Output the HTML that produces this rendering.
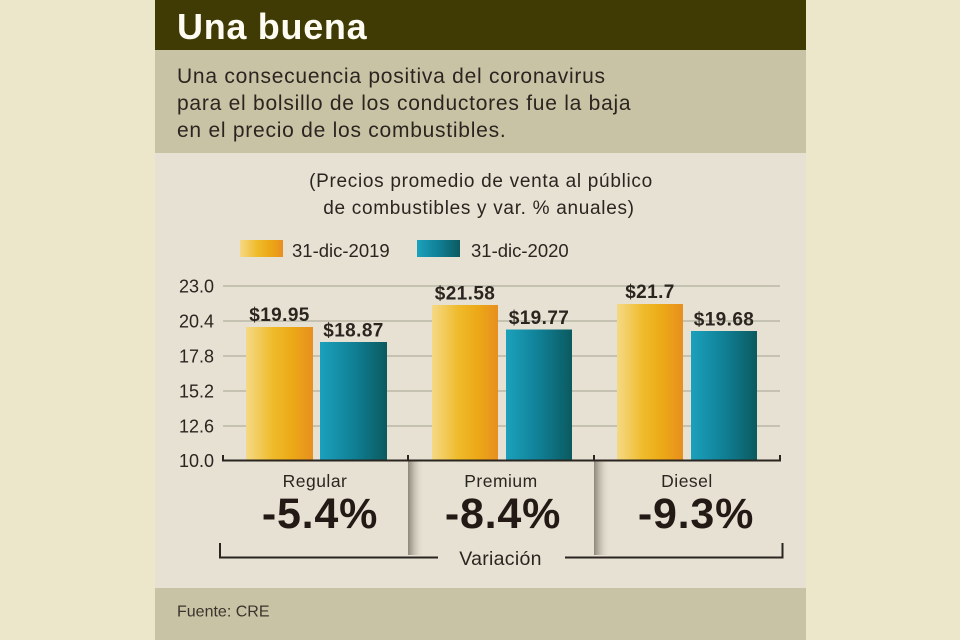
<!DOCTYPE html>
<html>
<head>
<meta charset="utf-8">
<style>
html,body{margin:0;padding:0;background:#ece7ca;}
svg{display:block;}
text{font-family:"Liberation Sans",sans-serif;}
</style>
</head>
<body>
<svg width="960" height="640" viewBox="0 0 960 640" xmlns="http://www.w3.org/2000/svg">
<defs>
<linearGradient id="gO" x1="0" y1="0" x2="1" y2="0">
<stop offset="0" stop-color="#f5d985"/>
<stop offset="0.4" stop-color="#efbb2b"/>
<stop offset="0.7" stop-color="#eca816"/>
<stop offset="1" stop-color="#e78f1f"/>
</linearGradient>
<linearGradient id="gT" x1="0" y1="0" x2="1" y2="0">
<stop offset="0" stop-color="#1ba1bc"/>
<stop offset="0.5" stop-color="#108096"/>
<stop offset="1" stop-color="#0b5a5f"/>
</linearGradient>
<linearGradient id="gS" x1="0" y1="0" x2="1" y2="0">
<stop offset="0" stop-color="#6e685c" stop-opacity="0.75"/>
<stop offset="0.3" stop-color="#8a8476" stop-opacity="0.5"/>
<stop offset="1" stop-color="#e6e1d3" stop-opacity="0"/>
</linearGradient>
</defs>

<!-- outer background -->
<rect x="0" y="0" width="960" height="640" fill="#ece7ca"/>
<!-- header -->
<rect x="155" y="0" width="651" height="50" fill="#403b05"/>
<!-- text box -->
<rect x="155" y="50" width="651" height="103" fill="#c9c3a6"/>
<!-- chart area -->
<rect x="155" y="153" width="651" height="435" fill="#e6e1d3"/>
<!-- footer -->
<rect x="155" y="588" width="651" height="52" fill="#c9c3a6"/>

<!-- title -->
<text x="177" y="39" font-size="36" font-weight="bold" fill="#fdfbf2" letter-spacing="0.7">Una buena</text>

<!-- intro text -->
<g font-size="21" fill="#2b2520" letter-spacing="0.75">
<text x="177" y="83">Una consecuencia positiva del coronavirus</text>
<text x="177" y="110">para el bolsillo de los conductores fue la baja</text>
<text x="177" y="137">en el precio de los combustibles.</text>
</g>

<!-- subtitle -->
<g font-size="19" fill="#2b2520" letter-spacing="0.7" text-anchor="middle">
<text x="481" y="187">(Precios promedio de venta al público</text>
<text x="479" y="214">de combustibles y var. % anuales)</text>
</g>

<!-- legend -->
<rect x="240" y="240" width="43" height="17" fill="url(#gO)"/>
<text x="292" y="257" font-size="18.5" fill="#2b2520">31-dic-2019</text>
<rect x="417" y="240" width="43" height="17" fill="url(#gT)"/>
<text x="471" y="257" font-size="18.5" fill="#2b2520">31-dic-2020</text>

<!-- gridlines -->
<g stroke="#bcb7a8" stroke-width="1.5">
<line x1="223" y1="286" x2="780" y2="286"/>
<line x1="223" y1="321" x2="780" y2="321"/>
<line x1="223" y1="356" x2="780" y2="356"/>
<line x1="223" y1="391" x2="780" y2="391"/>
<line x1="223" y1="426" x2="780" y2="426"/>
</g>

<!-- y labels -->
<g font-size="18" fill="#2b2520" text-anchor="end">
<text x="214" y="292.5">23.0</text>
<text x="214" y="327.5">20.4</text>
<text x="214" y="362.5">17.8</text>
<text x="214" y="397.5">15.2</text>
<text x="214" y="432.5">12.6</text>
<text x="214" y="467">10.0</text>
</g>

<!-- bars -->
<rect x="246" y="327" width="67" height="133" fill="url(#gO)"/>
<rect x="320" y="342" width="67" height="118" fill="url(#gT)"/>
<rect x="432" y="305" width="66" height="155" fill="url(#gO)"/>
<rect x="506" y="329.5" width="66" height="130.5" fill="url(#gT)"/>
<rect x="617" y="304" width="66" height="156" fill="url(#gO)"/>
<rect x="691" y="331" width="66" height="129" fill="url(#gT)"/>

<!-- bar labels -->
<g font-size="19" font-weight="bold" fill="#2b2520" text-anchor="middle" letter-spacing="0.4">
<text x="279.5" y="321">$19.95</text>
<text x="353.5" y="336.5">$18.87</text>
<text x="465" y="299.5">$21.58</text>
<text x="539" y="324">$19.77</text>
<text x="650" y="298">$21.7</text>
<text x="724" y="325.5">$19.68</text>
</g>

<!-- separators shading -->
<rect x="408" y="460" width="16" height="95" fill="url(#gS)"/>
<rect x="594" y="460" width="16" height="95" fill="url(#gS)"/>

<!-- axis -->
<g stroke="#2b2520" stroke-width="2" fill="none">
<line x1="222" y1="460.5" x2="781" y2="460.5"/>
<line x1="223" y1="455" x2="223" y2="461"/>
<line x1="408" y1="455" x2="408" y2="461"/>
<line x1="594" y1="455" x2="594" y2="461"/>
<line x1="780" y1="455" x2="780" y2="461"/>
</g>

<!-- categories -->
<g font-size="17.5" fill="#2b2520" text-anchor="middle" letter-spacing="0.5">
<text x="315" y="487">Regular</text>
<text x="501" y="487">Premium</text>
<text x="687" y="487">Diesel</text>
</g>
<g font-size="43" font-weight="bold" fill="#231a16" text-anchor="middle" letter-spacing="0.8">
<text x="320" y="528">-5.4%</text>
<text x="503" y="528">-8.4%</text>
<text x="696" y="528">-9.3%</text>
</g>

<!-- bracket -->
<g stroke="#2b2520" stroke-width="2" fill="none">
<polyline points="220,543 220,557.5 438,557.5"/>
<polyline points="565,557.5 782.5,557.5 782.5,543"/>
</g>
<text x="500.5" y="565" font-size="19.5" fill="#2b2520" text-anchor="middle" letter-spacing="0.3">Variación</text>

<!-- source -->
<text x="177" y="616.5" font-size="16" fill="#3a342c">Fuente: CRE</text>
</svg>
</body>
</html>
